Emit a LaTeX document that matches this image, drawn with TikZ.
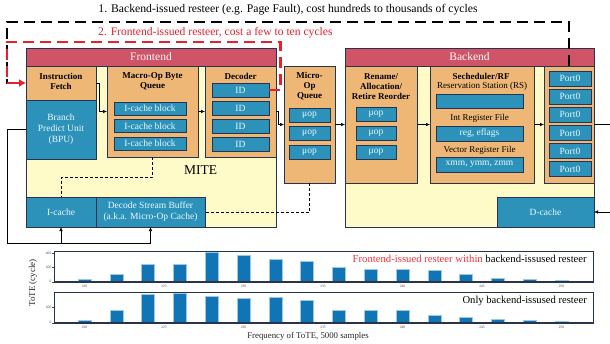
\documentclass[tikz,border=0pt]{standalone}
\usepackage{fontspec}
\setmainfont{Liberation Serif}
\usetikzlibrary{arrows.meta,calc}

\definecolor{hdrpink}{HTML}{D05467}
\definecolor{stageorange}{HTML}{EFB775}
\definecolor{creamfill}{HTML}{FFFBC9}
\definecolor{unitblue}{HTML}{2C92BA}
\definecolor{edgenavy}{HTML}{26344F}
\definecolor{bartone}{HTML}{1175B5}
\definecolor{baredge}{HTML}{9CC8E6}
\definecolor{restred}{HTML}{E8202A}
\definecolor{legendred}{HTML}{F0343C}

\tikzset{
  region/.style={draw=edgenavy, line width=0.8pt, fill=creamfill, anchor=north west,
                 inner sep=0pt, outer sep=0pt},
  header/.style={draw=edgenavy, line width=0.8pt, fill=hdrpink, anchor=north west,
                 inner sep=0pt, outer sep=0pt, text=white!92!pink,
                 font=\fontsize{11.5}{13}\selectfont},
  stage/.style={draw=edgenavy, line width=0.8pt, fill=stageorange, anchor=north west,
                inner sep=0pt, outer sep=0pt},
  unit/.style={draw=edgenavy, line width=1pt, fill=unitblue, anchor=north west,
               inner sep=0pt, outer sep=0pt, text=white!92!cyan, align=center,
               font=\fontsize{9.5}{11}\selectfont},
  title/.style={inner sep=0pt, align=center, font=\fontsize{9}{10}\selectfont\bfseries},
  sublabel/.style={inner sep=0pt, align=center, font=\fontsize{9}{10}\selectfont},
  flow/.style={draw=black, line width=0.6pt, -{Latex[length=4pt,width=3.6pt]}},
  plainline/.style={draw=black, line width=0.6pt},
  thindash/.style={draw=black, line width=0.6pt, dash pattern=on 3pt off 2pt},
  backresteer/.style={draw=black, line width=2.4pt, dash pattern=on 11pt off 6pt},
  frontresteer/.style={draw=restred, line width=2.4pt, dash pattern=on 11pt off 6pt},
  chart/.style={draw=edgenavy, line width=0.8pt, anchor=north west, inner sep=0pt,
                outer sep=0pt},
  bar/.style={fill=bartone, draw=baredge, line width=0.5pt},
  ticktext/.style={inner sep=0pt, font=\fontsize{3.6}{4}\selectfont, text=black!75},
}

\begin{document}
\begin{tikzpicture}[x=1pt,y=-1pt]
\useasboundingbox (0,0) rectangle (610,343);

% ---------------- Frontend ----------------
\node[region, minimum width=250, minimum height=179] (fe) at (26,48) {};
\node[header, minimum width=250, minimum height=18] (fehdr) at (26,48) {Frontend};
\node[font=\fontsize{13.5}{15}\selectfont, inner sep=0pt] (mite) at (200.5,170) {MITE};

\node[stage, minimum width=70, minimum height=34] (ifetch) at (26,66) {};
\node[title] (ifetchlbl) at (61,81) {Instruction\\Fetch};
\node[unit, minimum width=70, minimum height=59] (bpu) at (26,100) {Branch\\Predict Unit\\(BPU)};

\node[stage, minimum width=91, minimum height=91] (mobq) at (107,66) {};
\node[title] (mobqlbl) at (152.5,81) {Macro-Op Byte\\Queue};
\node[unit, minimum width=72, minimum height=13] (blk1) at (114,102) {I-cache block};
\node[unit, minimum width=72, minimum height=13] (blk2) at (114,119.5) {I-cache block};
\node[unit, minimum width=72, minimum height=13] (blk3) at (114,137) {I-cache block};

\node[stage, minimum width=71, minimum height=91] (dec) at (205,66) {};
\node[title] (declbl) at (240.5,76) {Decoder};
\node[unit, minimum width=57, minimum height=14] (id1) at (212,83) {ID};
\node[unit, minimum width=57, minimum height=14] (id2) at (212,101) {ID};
\node[unit, minimum width=57, minimum height=14] (id3) at (212,119) {ID};
\node[unit, minimum width=57, minimum height=14] (id4) at (212,137) {ID};

\node[unit, minimum width=70, minimum height=30] (icache) at (26,197) {I-cache};
\node[unit, minimum width=109, minimum height=30] (dsb) at (96,197)
  {Decode Stream Buffer\\(a.k.a. Micro-Op Cache)};

% ---------------- Micro-op queue ----------------
\node[stage, minimum width=51, minimum height=117] (moq) at (284,66) {};
\node[title] (moqlbl) at (309.5,86.5) {Micro-\\Op\\Queue};
\node[unit, minimum width=41, minimum height=14] (q1) at (289,108) {μop};
\node[unit, minimum width=41, minimum height=14] (q2) at (289,126) {μop};
\node[unit, minimum width=41, minimum height=14] (q3) at (289,145) {μop};

% ---------------- Backend ----------------
\node[region, minimum width=249, minimum height=179] (be) at (345,48) {};
\node[header, minimum width=249, minimum height=18] (behdr) at (345,48) {Backend};

\node[stage, minimum width=72, minimum height=117] (ren) at (345,66) {};
\node[title] (renlbl) at (381,86.5) {Rename/\\Allocation/\\Retire Reorder};
\node[unit, minimum width=40, minimum height=14] (r1) at (356,107.5) {μop};
\node[unit, minimum width=40, minimum height=14] (r2) at (356,126) {μop};
\node[unit, minimum width=40, minimum height=14] (r3) at (356,145) {μop};

\node[stage, minimum width=104, minimum height=117] (sch) at (430,66) {};
\node[title] (schlbl) at (481,76) {Secheduler/RF};
\node[sublabel] (rslbl) at (482,86.5) {Reservation Station (RS)};
\node[unit, minimum width=87, minimum height=14] (rs) at (436,94) {};
\node[sublabel] (intlbl) at (479.5,118) {Int Register File};
\node[unit, minimum width=87, minimum height=15] (intrf) at (436,126) {reg, eflags};
\node[sublabel] (veclbl) at (479.5,150) {Vector Register File};
\node[unit, minimum width=87, minimum height=15] (vecrf) at (436,157) {xmm, ymm, zmm};

\node[stage, minimum width=50, minimum height=117] (ports) at (544,66) {};
\node[unit, minimum width=42, minimum height=15] (p1) at (549,71) {Port0};
\node[unit, minimum width=42, minimum height=15] (p2) at (549,89) {Port0};
\node[unit, minimum width=42, minimum height=15] (p3) at (549,107) {Port0};
\node[unit, minimum width=42, minimum height=15] (p4) at (549,125.5) {Port0};
\node[unit, minimum width=42, minimum height=15] (p5) at (549,143.5) {Port0};
\node[unit, minimum width=42, minimum height=15] (p6) at (549,161.5) {Port0};

\node[unit, minimum width=97, minimum height=30] (dcache) at (497,197) {D-cache};

% ---------------- Pipeline connectors ----------------
\draw[flow] (ifetch.east) -- ++(3.5,0) |- (mobq.west);
\draw[flow] (mobq.east) -- (dec.west);
\draw[flow] (dec.east) -- ++(2.5,0) |- (moq.west);
\draw[flow] (moq.east) -- (ren.west);
\draw[flow] (ren.east) -- (sch.west);
\draw[flow] (sch.east) -- (ports.west);
\coordinate (portsout) at (610,124.5);
\draw[plainline] (ports.east) -- (portsout);
\coordinate (dcin) at (610,212);
\draw[flow] (dcin) -- (dcache.east);

% BPU feeding the I-cache and the decode stream buffer
\coordinate (bpuloop) at (7,243);
\draw[plainline] (bpu.west) -| (bpuloop) -| ($(dsb.south)+(0,5)$);
\draw[flow] (bpuloop -| dsb.south) -- (dsb.south);
\draw[flow] (bpuloop -| icache.south) -- (icache.south);

% refill / bypass paths
\draw[thindash] (mobq.south) -- ++(0,20) -| (icache.north);
\draw[thindash] (moq.south) |- (dsb.east);

% ---------------- Resteer paths ----------------
\coordinate (backtop) at (7,22);
\draw[backresteer] (ports.north) |- (backtop) |- ($(ifetch.west)+(-6,0)$);
\coordinate (fronttop) at (280.5,42);
\coordinate (frontleft) at (7,42);
\draw[frontresteer] (id1.east) -| (fronttop) -- (frontleft) |- ($(ifetch.west)+(-6,0)$);
\draw[draw=restred, line width=2.4pt, -{Latex[length=7pt,width=8pt]}]
  ($(ifetch.west)+(-8,0)$) -- (ifetch.west);

\node[font=\fontsize{11.7}{13}\selectfont, inner sep=0pt] (backnote) at (288,10)
  {1. Backend-issued resteer (e.g. Page Fault), cost hundreds to thousands of cycles};
\node[font=\fontsize{11.6}{13}\selectfont, text=restred, inner sep=0pt, anchor=west] (frontnote) at (98,32.5)
  {2. Frontend-issued resteer, cost a few to ten cycles};

% ---------------- ToTE histograms ----------------
\node[chart, minimum width=539, minimum height=31] (chartA) at (54,251) {};
\node[chart, minimum width=539, minimum height=31] (chartB) at (54,292) {};

% panel A bars (bar top, pixel rows)
\foreach \i/\t in {0/279,1/274,2/264,3/264.3,4/252,5/255.3,6/259,7/261.5,
                   8/267.7,9/269.3,10/269.3,11/270.3,12/274,13/278,14/279,15/280}
  \draw[bar] ({84.5+\i*31.8-6.5},281.7) rectangle ({84.5+\i*31.8+6.5},\t);
% panel B bars
\foreach \i/\t in {0/320,1/310.7,2/294.3,3/293.3,4/296,5/298,6/297,7/300,
                   8/310,9/310,10/310,11/315,12/317.3,13/319.3,14/320.7,15/321.7}
  \draw[bar] ({84.5+\i*31.8-6.5},322.7) rectangle ({84.5+\i*31.8+6.5},\t);

% axes baselines
\draw[edgenavy, line width=1.3pt] (chartA.south west) -- (chartA.south east);
\draw[edgenavy, line width=1.3pt] (chartB.south west) -- (chartB.south east);

% y ticks
\foreach \y/\v in {253.3/400,267.3/200,281.7/0}{
  \draw[black!70, line width=0.3pt] (52,\y) -- (54,\y);
  \node[ticktext, anchor=east] at (51.5,\y) {\v};
}
\foreach \y/\v in {307.3/200,322.7/0}{
  \draw[black!70, line width=0.3pt] (52,\y) -- (54,\y);
  \node[ticktext, anchor=east] at (51.5,\y) {\v};
}
% x ticks
\foreach \v in {220,225,...,250}{
  \node[ticktext] at ({84.5+(\v-220)*15.9},286.5) {\v};
  \node[ticktext] at ({84.5+(\v-220)*15.9},327.5) {\v};
}

\node[inner sep=0pt, anchor=east, font=\fontsize{10.7}{12}\selectfont] (legA) at (587,259)
  {\textcolor{legendred}{Frontend-issued resteer within} backend-issused resteer};
\node[inner sep=0pt, anchor=east, font=\fontsize{10.6}{12}\selectfont] (legB) at (587,301)
  {Only backend-issused resteer};

\node[rotate=90, inner sep=0pt, font=\fontsize{9}{10}\selectfont, text=black!85] (ylbl) at (33,283)
  {ToTE (cycle)};
\node[inner sep=0pt, font=\fontsize{8.8}{10}\selectfont, text=black!85] (xlbl) at (308,336)
  {Frequency of ToTE, 5000 samples};

\end{tikzpicture}
\end{document}
